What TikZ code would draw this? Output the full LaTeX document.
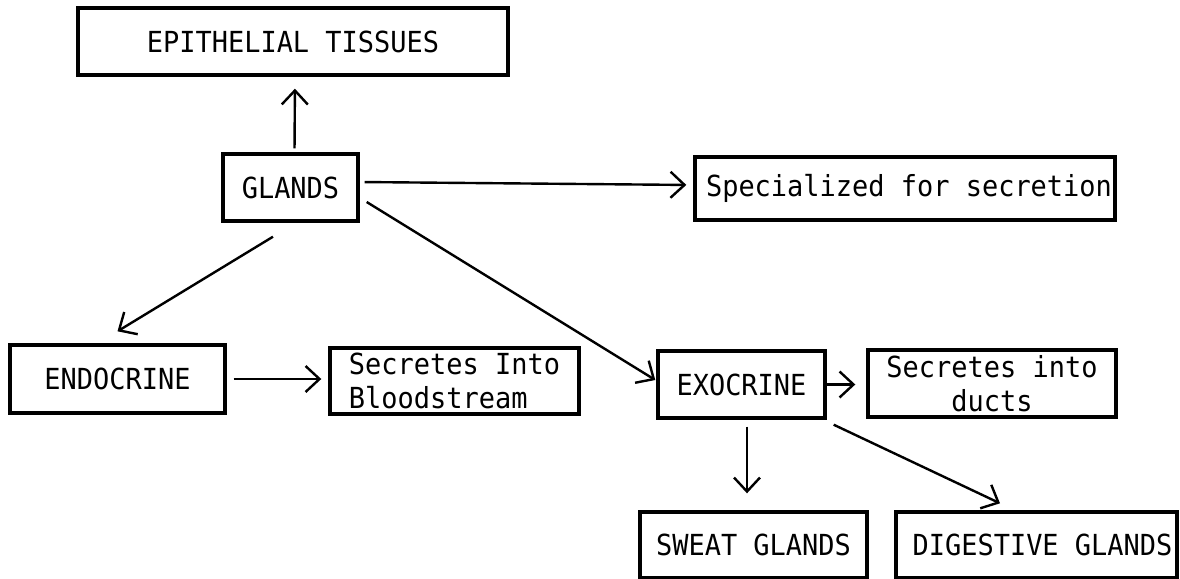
\documentclass[tikz,border=0pt]{standalone}
\usepackage{fontspec}
\newfontfamily\typer[FakeStretch=0.93]{DejaVu Sans Mono}
\usetikzlibrary{arrows.meta}

\tikzset{
  box/.style={draw, line width=1.7pt, inner sep=0pt, align=center,
    font=\typer\fontsize{14.5}{17}\selectfont},
  arr/.style={line width=1.2pt, -{Straight Barb[length=7pt,width=13pt]}}
}

\begin{document}
\begin{tikzpicture}[x=0.5pt,y=-0.5pt]
      \useasboundingbox (0,0) rectangle (1180,579);
      \node[box, minimum width=215pt, minimum height=33.5pt] (epi) at (293,41.5) {EPITHELIAL TISSUES};
      \node[box, minimum width=67.5pt, minimum height=33.5pt] (glands) at (290.5,187.5) {GLANDS};
      \node[box, minimum width=210pt, minimum height=31.5pt] (spec) at (905,188.5) {\hspace{4pt}Specialized for secretion};
      \node[box, minimum width=107.5pt, minimum height=34pt] (endo) at (117.5,379) {ENDOCRINE};
      \node[box, align=left, minimum width=124.5pt, minimum height=33pt] (blood) at (454.5,381) {Secretes Into\\Bloodstream};
      \node[box, minimum width=83.5pt, minimum height=33.5pt] (exo) at (741.5,384.5) {EXOCRINE};
      \node[box, minimum width=124pt, minimum height=33.5pt] (ducts) at (992,383.5) {Secretes into\\ducts};
      \node[box, minimum width=113.5pt, minimum height=33pt] (sweat) at (753.5,545) {SWEAT GLANDS};
      \node[box, minimum width=140.5pt, minimum height=33pt] (dig) at (1036.5,545) {\hspace{6pt}DIGESTIVE GLANDS};

      \draw[arr, shorten <=2pt, shorten >=6pt] ([xshift=2pt]glands.north) -- ([xshift=1pt]epi.south);
      \draw[arr, shorten <=2.5pt, shorten >=3.5pt] ([yshift=2.75pt]glands.east) -- ([yshift=1.75pt]spec.west);
      \draw[arr] ([shift={(-8.75pt,-7pt)}]glands.south) -- ([yshift=6pt]endo.north);
      \draw[arr] ([shift={(3.5pt,-7.25pt)}]glands.east) -- ([shift={(-0.5pt,2.25pt)}]exo.west);
      \draw[arr, shorten <=3.5pt, shorten >=3.5pt] (endo.east) -- (endo.east -| blood.west);
      \draw[arr, shorten >=5.5pt] (exo.east) -- (exo.east -| ducts.west);
      \draw[arr, shorten <=3.5pt, shorten >=8.5pt] ([xshift=2.75pt]exo.south) -- ([xshift=2.75pt]exo.south |- sweat.north);
      \draw[arr] ([shift={(3.5pt,-2.5pt)}]exo.south east) -- ([shift={(-18.25pt,3.5pt)}]dig.north);
\end{tikzpicture}
\end{document}
